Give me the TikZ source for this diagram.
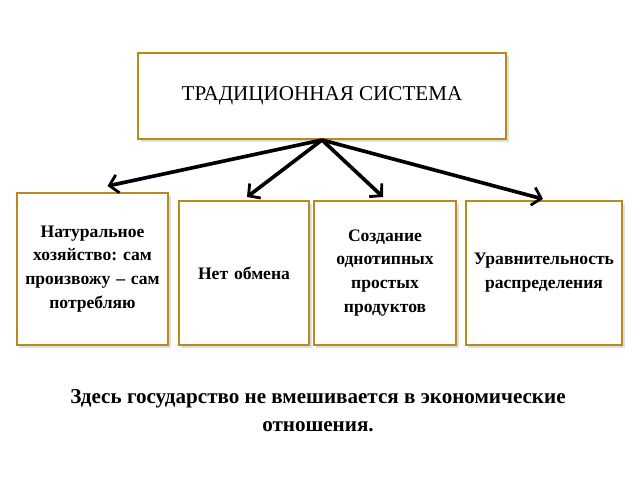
\documentclass[tikz,border=0pt]{standalone}
\usepackage{fontspec}
\setmainfont{Liberation Serif}
\frenchspacing
\usetikzlibrary{positioning,arrows.meta,shadows}
\definecolor{boxgold}{RGB}{184,138,30}
\tikzset{
  sysbox/.style={rectangle, draw=boxgold, line width=1.4pt, fill=white,
    drop shadow={shadow xshift=2pt, shadow yshift=-2pt, fill=black!25},
    align=center, inner sep=1pt},
  featbox/.style={sysbox, font=\bfseries\fontsize{12.5}{17}\selectfont, text width=#1},
  branch/.style={line width=2.6pt, -{Straight Barb[length=6pt,width=13pt,line width=2pt]}}
}
\begin{document}
\begin{tikzpicture}[x=0.025cm, y=-0.025cm]
    \useasboundingbox (0,0) rectangle (640,480);

    % Top box
    \node[sysbox, minimum width=368*0.025cm, minimum height=86*0.025cm,
          font=\fontsize{15}{18}\selectfont] (sys) at (322,96) {ТРАДИЦИОННАЯ СИСТЕМА};

    % Feature boxes
    \node[featbox=149*0.025cm, minimum width=151*0.025cm, minimum height=152*0.025cm] (nat) at (92.5,269) {Натуральное\\хозяйство: сам\\произвожу -- сам\\потребляю};
    \node[featbox=128*0.025cm, minimum width=130*0.025cm, minimum height=144*0.025cm] (obm) at (244,273) {Нет обмена};
    \node[featbox=140*0.025cm, minimum width=142*0.025cm, minimum height=144*0.025cm] (sozd) at (385,273) {Создание\\однотипных\\простых\\продуктов};
    \node[featbox=154*0.025cm, minimum width=156*0.025cm, minimum height=144*0.025cm] (urav) at (544,273) {Уравнительность\\распределения};

    % Arrows
    \draw[branch] (sys.south) -- ([xshift=15*0.025cm, yshift=6*0.025cm]nat.north);
    \draw[branch] (sys.south) -- ([xshift=3*0.025cm, yshift=3*0.025cm]obm.north);
    \draw[branch] (sys.south) -- ([xshift=-2*0.025cm, yshift=3*0.025cm]sozd.north);
    \draw[branch] (sys.south) -- ([xshift=-1*0.025cm, yshift=1*0.025cm]urav.north);

    % Caption
    \node[align=center, font=\bfseries\fontsize{15}{20}\selectfont] (note) at (318,411)
        {Здесь государство не вмешивается в экономические\\отношения.};
\end{tikzpicture}
\end{document}
